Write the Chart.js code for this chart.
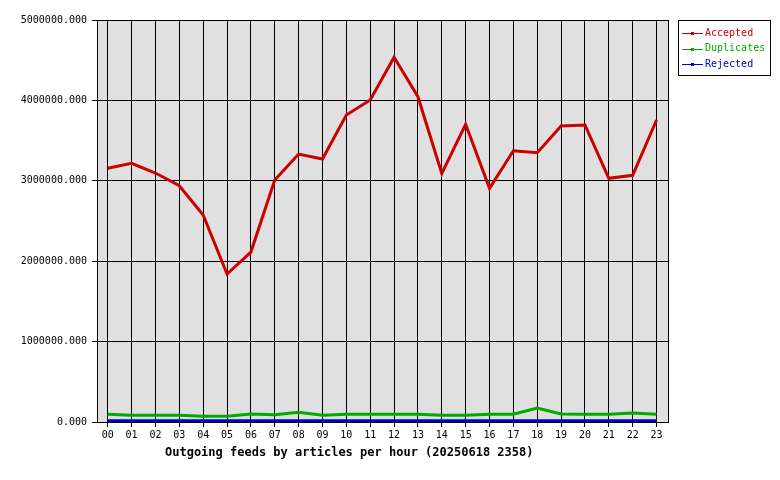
<!DOCTYPE html>
<html>
<head>
<meta charset="utf-8">
<script src="https://cdn.jsdelivr.net/npm/chart.js@4/dist/chart.umd.min.js"></script>
<style>
	html, body { margin: 0; padding: 0; background: #fff; }
	#wrap { width: 780px; height: 480px; }
</style>
</head>
<body>
<div id="wrap"><canvas id="feedChart" width="780" height="480"></canvas></div>
<script>
	// 시간대 라벨
	const hours = ["00","01","02","03","04","05","06","07","08","09","10","11",
		"12","13","14","15","16","17","18","19","20","21","22","23"];
	// 시리즈 값
	const accepted = [3155000, 3218000, 3097000, 2939000, 2575000, 1841000, 2114000, 3010000,
		3333000, 3271000, 3818000, 4005000, 4536000, 4046000, 3093000, 3703000,
		2907000, 3374000, 3350000, 3682000, 3694000, 3031000, 3068000, 3756000];
	const duplicates = [96000, 83000, 83000, 83000, 71000, 71000, 100000, 90000,
		120000, 83000, 96000, 96000, 96000, 96000, 83000, 83000,
		96000, 96000, 174000, 100000, 96000, 96000, 112000, 96000];
	const rejected = [15000, 15000, 15000, 15000, 15000, 15000, 15000, 15000,
		15000, 15000, 15000, 15000, 15000, 15000, 15000, 15000,
		15000, 15000, 15000, 15000, 15000, 15000, 15000, 15000];
	const yTicks = [0, 1000000, 2000000, 3000000, 4000000, 5000000];
	const seriesNames = ["Accepted", "Duplicates", "Rejected"];
	const seriesColors = ["#cc0000", "#00aa00", "#0000cc"];
	const chartTitle = "Outgoing feeds by articles per hour (20250618 2358)";

	const MONO = "'DejaVu Sans Mono', 'Liberation Mono', monospace";

	function toPoints(arr) {
		return arr.map(function(v, i) { return { x: i, y: v }; });
	} // toPoints

	// 배경, 테두리, 범례, 제목
	const framePlugin = {
		id: "frame",
		beforeDraw: function(chart) {
			const a = chart.chartArea;
			const ctx = chart.ctx;
			ctx.save();
			ctx.fillStyle = "#fff";
			ctx.fillRect(0, 0, chart.width, chart.height);
			ctx.fillStyle = "#e0e0e0";
			ctx.fillRect(a.left, a.top, a.right - a.left, a.bottom - a.top);
			ctx.restore();
		},
		afterDraw: function(chart) {
			const a = chart.chartArea;
			const ctx = chart.ctx;
			ctx.save();
			ctx.strokeStyle = "#000";
			ctx.lineWidth = 1;
			ctx.strokeRect(Math.round(a.left) + 0.5, Math.round(a.top) + 0.5,
				Math.round(a.right - a.left), Math.round(a.bottom - a.top));

			// 범례
			const lx = 678, ly = 20;
			ctx.strokeRect(lx + 0.5, ly + 0.5, 92, 55);
			ctx.font = "10px " + MONO;
			ctx.textBaseline = "middle";
			for (let i = 0; i < seriesNames.length; i++) {
				const y = ly + 13 + i * 15.5;
				ctx.strokeStyle = seriesColors[i];
				ctx.beginPath();
				ctx.moveTo(lx + 4, Math.round(y) + 0.5);
				ctx.lineTo(lx + 25, Math.round(y) + 0.5);
				ctx.stroke();
				ctx.strokeRect(lx + 13.5, Math.round(y) - 0.5, 2, 2);
				ctx.fillStyle = seriesColors[i];
				ctx.fillText(seriesNames[i], lx + 27, y);
			} // end for

			// 제목
			ctx.fillStyle = "#000";
			ctx.font = "bold 12px " + MONO;
			ctx.textBaseline = "middle";
			ctx.fillText(chartTitle, 165, 453);
			ctx.restore();
		}
	}; // framePlugin

	const datasets = [rejected, duplicates, accepted].map(function(arr, k) {
		const idx = 2 - k;
		return {
			label: seriesNames[idx],
			data: toPoints(arr),
			borderColor: seriesColors[idx],
			borderWidth: 3,
			pointRadius: 0,
			tension: 0,
			fill: false
		};
	});

	new Chart(document.getElementById("feedChart"), {
		type: "line",
		data: { datasets: datasets },
		options: {
			responsive: false,
			animation: false,
			layout: { padding: { top: 20, right: 112, bottom: 0, left: 0 } },
			plugins: {
				legend: { display: false },
				tooltip: { enabled: false }
			},
			scales: {
				x: {
					type: "linear",
					min: -0.45,
					max: 23.48,
					afterBuildTicks: function(scale) {
						scale.ticks = hours.map(function(h, i) { return { value: i }; });
					},
					afterFit: function(scale) { scale.height = 58; },
					grid: { color: "#000", lineWidth: 1, tickLength: 5, drawOnChartArea: true },
					border: { display: true, color: "#000", width: 1 },
					ticks: {
						color: "#000",
						font: { family: MONO, size: 10 },
						padding: 2,
						maxRotation: 0,
						autoSkip: false,
						callback: function(v) { return hours[v]; }
					}
				},
				y: {
					min: 0,
					max: 5000000,
					afterBuildTicks: function(scale) {
						scale.ticks = yTicks.map(function(v) { return { value: v }; });
					},
					afterFit: function(scale) { scale.width = 97; },
					grid: { color: "#000", lineWidth: 1, tickLength: 5 },
					border: { display: true, color: "#000", width: 1 },
					ticks: {
						color: "#000",
						font: { family: MONO, size: 10 },
						padding: 5,
						callback: function(v) { return Number(v).toFixed(3); }
					}
				}
			}
		},
		plugins: [framePlugin]
	}); // end chart
</script>
</body>
</html>
